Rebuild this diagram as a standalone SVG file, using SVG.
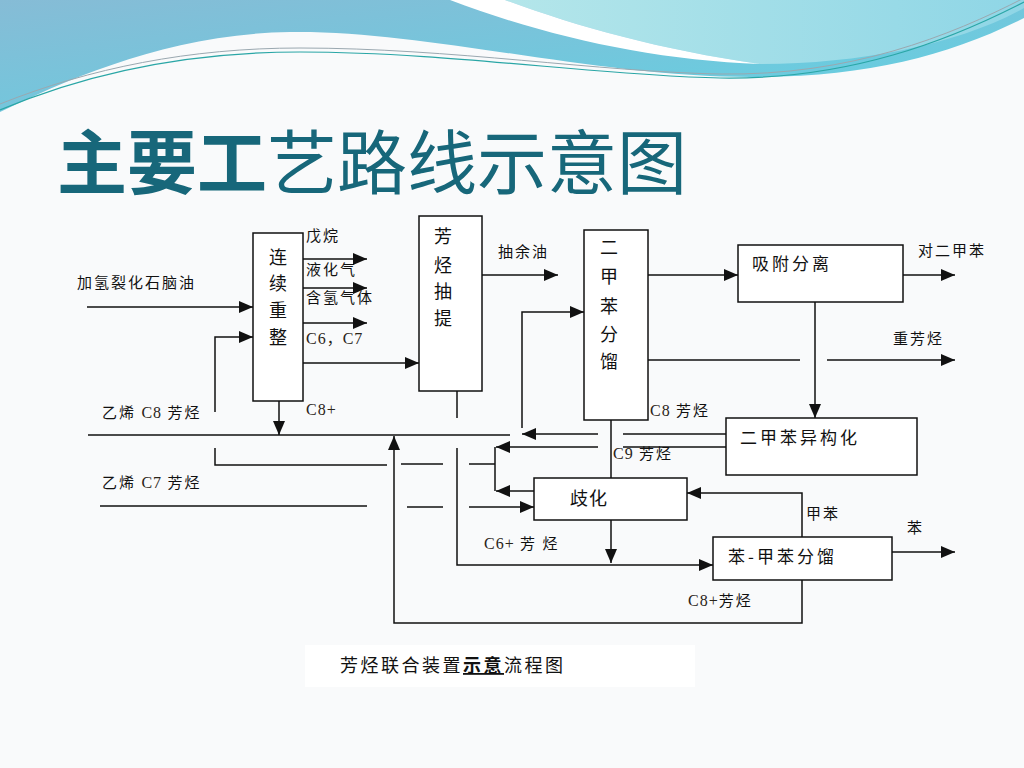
<svg xmlns="http://www.w3.org/2000/svg" width="1024" height="768" viewBox="0 0 1024 768">
<defs>
<linearGradient id="gBlue" x1="0" y1="0" x2="1" y2="1">
<stop offset="0" stop-color="#86bcd6"/>
<stop offset="0.5" stop-color="#74c6dc"/>
<stop offset="1" stop-color="#5fd2e2"/>
</linearGradient>
<linearGradient id="gCyan" x1="0" y1="0" x2="1" y2="0">
<stop offset="0" stop-color="#b4e6ea"/>
<stop offset="1" stop-color="#8fd6e6"/>
</linearGradient>
<marker id="ah" markerUnits="userSpaceOnUse" markerWidth="15" markerHeight="12" refX="14" refY="6" orient="auto">
<path d="M0,0 L14,6 L0,12 Z" fill="#111"/>
</marker>
<style>
.bx{fill:#fff;stroke:#111;stroke-width:1.5}
.ln{fill:none;stroke:#111;stroke-width:1.5}
.ar{fill:none;stroke:#111;stroke-width:1.5;marker-end:url(#ah)}
.cj{font-family:"Noto Sans CJK SC","Noto Sans",sans-serif;fill:#111}
.lb{font-size:15px;letter-spacing:2px}
.bt{font-size:18px;text-anchor:middle}
.ht{font-size:17px;letter-spacing:3px}
.sf{font-family:"Liberation Serif",serif;font-size:16px;fill:#2a2418;letter-spacing:1px}
</style>
</defs>
<rect width="1024" height="768" fill="#f9fafb"/>
<g id="header">
<path d="M0,0 H1024 V18 C950,55 870,76 760,77 C600,79 430,30 290,32 C170,34 70,78 0,112 Z" fill="url(#gBlue)"/>
<path d="M505,0 H1024 V8 C960,44 860,64 760,64 C660,50 575,26 505,0 Z" fill="url(#gCyan)"/>
<path d="M450,0 H505 C575,26 660,50 760,64 C650,60 545,36 450,0 Z" fill="#ffffff"/>
<path d="M0,110 C90,72 190,52 300,52 C450,52 600,76 720,78 C850,80 950,40 1024,2" fill="none" stroke="#2aa6a6" stroke-width="1.2"/>
<path d="M0,104 C90,68 190,48 300,48 C450,48 600,72 720,74 C850,76 950,36 1024,-2" fill="none" stroke="#9aa8b0" stroke-width="1"/>
</g>
<g id="title">
<text x="57" y="189" font-family="'Noto Sans CJK SC',sans-serif" font-size="70" fill="#17677a"><tspan font-weight="bold">主要工</tspan>艺路线示意图</text>
</g>
<g id="connectors">
<path class="ar" d="M87,307 H253"/>
<path class="ar" d="M215,412 V337 H253"/>
<path class="ar" d="M303,259 H367"/>
<path class="ar" d="M303,288 H367"/>
<path class="ar" d="M303,323 H367"/>
<path class="ar" d="M303,363 H419"/>
<path class="ar" d="M279,401 V435"/>
<path class="ln" d="M88,435 H510"/>
<path class="ln" d="M726,434 H623"/>
<path class="ar" d="M598,434 H522"/>
<path class="ar" d="M522,428 V312 H584"/>
<path class="ln" d="M457,391 V418"/>
<path class="ar" d="M457,448 V565 H713"/>
<path class="ar" d="M482,275 H558"/>
<path class="ar" d="M648,275 H738"/>
<path class="ln" d="M648,360 H800"/>
<path class="ar" d="M827,360 H955"/>
<path class="ar" d="M903,275 H955"/>
<path class="ar" d="M815,302 V418"/>
<path class="ln" d="M611,420 V478"/>
<path class="ln" d="M726,447 H623"/>
<path class="ar" d="M598,447 H496"/>
<path class="ar" d="M534,491 H496"/>
<path class="ln" d="M495,447 V491"/>
<path class="ln" d="M495,464 H469"/>
<path class="ln" d="M443,464 H401"/>
<path class="ln" d="M387,465 H215 V448"/>
<path class="ln" d="M100,506 H367"/>
<path class="ln" d="M407,507 H443"/>
<path class="ar" d="M469,507 H534"/>
<path class="ar" d="M611,520 V563"/>
<path class="ar" d="M892,552 H955"/>
<path class="ar" d="M802,537 V493 H687"/>
<path class="ar" d="M802,580 V623 H394 V436"/>
</g>
<g id="n-reform">
<rect class="bx" x="253" y="233" width="50" height="168"/>
<text class="cj bt" x="278"><tspan x="278" y="264">连</tspan><tspan x="278" y="290">续</tspan><tspan x="278" y="317">重</tspan><tspan x="278" y="344">整</tspan></text>
</g>
<g id="n-extract">
<rect class="bx" x="419" y="216" width="63" height="175"/>
<text class="cj bt" x="443"><tspan x="443" y="243">芳</tspan><tspan x="443" y="272">烃</tspan><tspan x="443" y="298">抽</tspan><tspan x="443" y="325">提</tspan></text>
</g>
<g id="n-xylene">
<rect class="bx" x="584" y="230" width="64" height="190"/>
<text class="cj bt" x="609"><tspan x="609" y="254">二</tspan><tspan x="609" y="283">甲</tspan><tspan x="609" y="313">苯</tspan><tspan x="609" y="341">分</tspan><tspan x="609" y="368">馏</tspan></text>
</g>
<g id="n-adsorb">
<rect class="bx" x="738" y="245" width="165" height="57"/>
<text class="cj ht" x="752" y="270">吸附分离</text>
</g>
<g id="n-isomer">
<rect class="bx" x="726" y="418" width="191" height="57"/>
<text class="cj ht" x="740" y="444">二甲苯异构化</text>
</g>
<g id="n-dispro">
<rect class="bx" x="534" y="478" width="153" height="42"/>
<text class="cj" x="570" y="505" font-size="18" letter-spacing="1">歧化</text>
</g>
<g id="n-btsplit">
<rect class="bx" x="713" y="537" width="179" height="43"/>
<text class="cj ht" x="728" y="563">苯-甲苯分馏</text>
</g>
<g id="labels">
<text class="cj lb" x="77" y="288">加氢裂化石脑油</text>
<text class="cj lb" x="306" y="241">戊烷</text>
<text class="cj lb" x="306" y="275">液化气</text>
<text class="cj lb" x="306" y="303">含氢气体</text>
<text class="sf" x="306" y="344">C6<tspan font-family="'Noto Sans CJK SC',sans-serif" font-size="15">，</tspan>C7</text>
<text class="sf" x="306" y="415">C8+</text>
<text class="cj lb" x="102" y="418">乙烯 <tspan class="sf">C8</tspan> 芳烃</text>
<text class="cj lb" x="102" y="488">乙烯 <tspan class="sf">C7</tspan> 芳烃</text>
<text class="cj lb" x="498" y="257">抽余油</text>
<text class="cj lb" x="918" y="256">对二甲苯</text>
<text class="cj lb" x="893" y="344">重芳烃</text>
<text class="cj lb" x="650" y="416"><tspan class="sf">C8</tspan> 芳烃</text>
<text class="cj lb" x="613" y="459"><tspan class="sf">C9</tspan> 芳烃</text>
<text class="cj lb" x="484" y="549"><tspan class="sf">C6+</tspan>  芳  烃</text>
<text class="cj lb" x="806" y="519">甲苯</text>
<text class="cj lb" x="907" y="533">苯</text>
<text class="cj lb" x="688" y="606"><tspan class="sf">C8+</tspan>芳烃</text>
</g>
<g id="caption">
<rect x="305" y="645" width="390" height="42" fill="#ffffff"/>
<text class="cj" x="340" y="672" font-size="18" letter-spacing="2.5">芳烃联合装置<tspan font-weight="bold" text-decoration="underline">示意</tspan>流程图</text>
</g>
</svg>
